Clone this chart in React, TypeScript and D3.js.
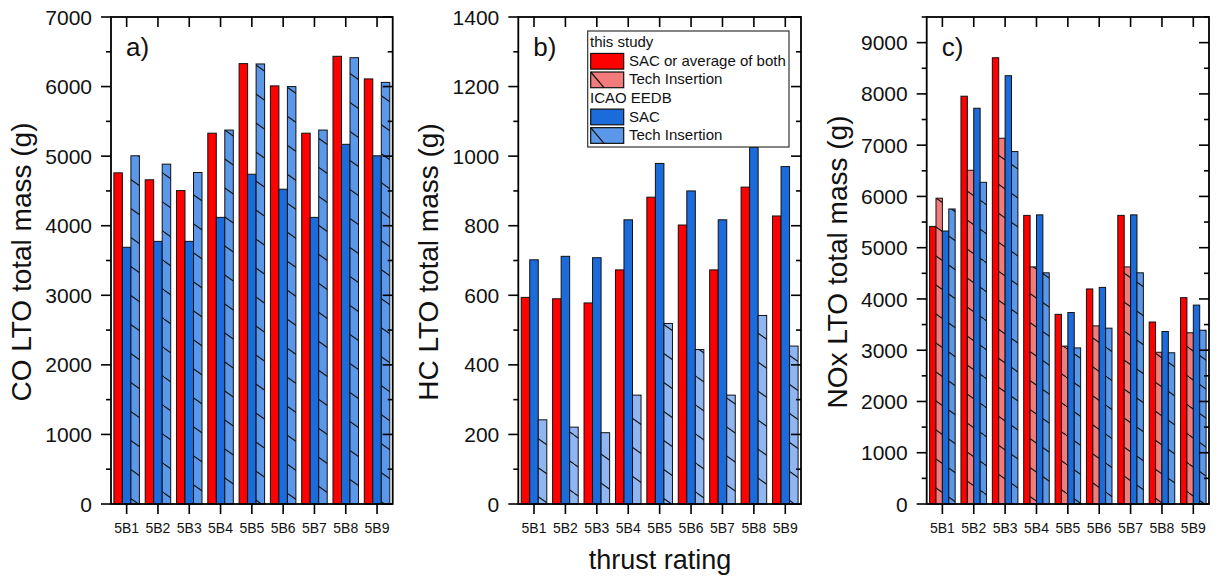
import React from 'react';
import * as d3 from 'd3';

const categories = ['5B1', '5B2', '5B3', '5B4', '5B5', '5B6', '5B7', '5B8', '5B9'];

const coStudySAC = [4760, 4660, 4505, 5330, 6330, 6010, 5330, 6435, 6110];
const coIcaoSAC = [3690, 3775, 3775, 4120, 4740, 4525, 4120, 5170, 5005];
const coIcaoTech = [5005, 4885, 4765, 5375, 6325, 6000, 5375, 6415, 6060];

const hcStudySAC = [594, 590, 578, 673, 882, 802, 673, 911, 828];
const hcIcaoSAC = [702, 712, 708, 817, 979, 900, 817, 1025, 970];
const hcIcaoTech = [242, 221, 205, 313, 519, 444, 313, 542, 454];

const noxStudySAC = [5415, 7955, 8705, 5630, 3700, 4195, 5630, 3550, 4025];
const noxStudyTech = [5965, 6510, 7135, 4625, 3080, 3475, 4625, 2960, 3340];
const noxIcaoSAC = [5325, 7720, 8355, 5640, 3735, 4225, 5640, 3365, 3880];
const noxIcaoTech = [5755, 6275, 6875, 4510, 3045, 3430, 4510, 2950, 3390];

const legendItems = [
  { header: 'this study' },
  { label: 'SAC or average of both', fill: '#ff0000', hatch: false },
  { label: 'Tech Insertion', fill: '#f27b7b', hatch: true },
  { header: 'ICAO EEDB' },
  { label: 'SAC', fill: '#1c6bdb', hatch: false },
  { label: 'Tech Insertion', fill: '#5b98ea', hatch: true },
];

const RED = '#ff0000';
const LRED = '#f27b7b';
const BLUE = '#1c6bdb';
const LBLUE = '#5b98ea';
const LBLUE2 = '#8fb6f1';

const FONT = '"Liberation Sans", Arial, Helvetica, sans-serif';

type Series = { values: number[]; fill: string; hatch: boolean };
type Panel = {
  left: number; right: number; top: number; bottom: number;
  yMax: number; major: number; minor: number;
  label: string; title: string; series: Series[];
};

const panels: Panel[] = [
  {
    left: 111, right: 392.7, top: 17, bottom: 504, yMax: 7000, major: 1000, minor: 500,
    label: 'a)', title: 'CO LTO total mass (g)',
    series: [
      { values: coStudySAC, fill: RED, hatch: false },
      { values: coIcaoSAC, fill: BLUE, hatch: false },
      { values: coIcaoTech, fill: LBLUE, hatch: true },
    ],
  },
  {
    left: 518.3, right: 801, top: 17, bottom: 504, yMax: 1400, major: 200, minor: 100,
    label: 'b)', title: 'HC LTO total mass (g)',
    series: [
      { values: hcStudySAC, fill: RED, hatch: false },
      { values: hcIcaoSAC, fill: BLUE, hatch: false },
      { values: hcIcaoTech, fill: LBLUE2, hatch: true },
    ],
  },
  {
    left: 926.7, right: 1209, top: 17, bottom: 504, yMax: 9500, major: 1000, minor: 500,
    label: 'c)', title: 'NOx LTO total mass (g)',
    series: [
      { values: noxStudySAC, fill: RED, hatch: false },
      { values: noxStudyTech, fill: LRED, hatch: true },
      { values: noxIcaoSAC, fill: BLUE, hatch: false },
      { values: noxIcaoTech, fill: LBLUE, hatch: true },
    ],
  },
];

function PanelView({ p }: { p: Panel }) {
  const x = d3.scaleBand<string>().domain(categories).range([p.left, p.right]).padding(0);
  const y = d3.scaleLinear().domain([0, p.yMax]).range([p.bottom, p.top]);
  const gw = x.bandwidth() * 0.815;
  const inner = d3.scaleBand<number>().domain(p.series.map((_, i) => i)).range([0, gw]).padding(0);
  const majors = d3.range(0, p.yMax + 0.001, p.major);
  const minors = d3.range(0, p.yMax + 0.001, p.minor).filter((v) => Math.abs(v / p.major - Math.round(v / p.major)) > 1e-6);
  const titleX = p.left - 80;
  const cy = 262;
  return (
    <g>
      {categories.map((c, ci) => (
        <g key={c}>
          {p.series.map((s, si) => {
            const bx = (x(c) as number) + x.bandwidth() / 2 - gw / 2 + (inner(si) as number);
            const by = y(s.values[ci]);
            const h = p.bottom - by;
            return (
              <g key={si}>
                <rect x={bx} y={by} width={inner.bandwidth()} height={h} fill={s.fill} />
                {s.hatch && <rect x={bx} y={by} width={inner.bandwidth()} height={h} fill="url(#hatch)" />}
                <rect x={bx} y={by} width={inner.bandwidth()} height={h} fill="none" stroke="#111" strokeWidth={1} />
              </g>
            );
          })}
        </g>
      ))}
      <rect x={p.left} y={p.top} width={p.right - p.left} height={p.bottom - p.top} fill="none" stroke="#000" strokeWidth={1.8} />
      {majors.map((v) => (
        <g key={'M' + v}>
          <line x1={p.left - 10} x2={p.left} y1={y(v)} y2={y(v)} stroke="#000" strokeWidth={1.6} />
          <line x1={p.right - 10} x2={p.right} y1={y(v)} y2={y(v)} stroke="#000" strokeWidth={1.6} />
          <text x={p.left - 19} y={y(v)} dy="0.36em" textAnchor="end" fontSize={21} fontFamily={FONT} fill="#111">{v}</text>
        </g>
      ))}
      {minors.map((v) => (
        <g key={'m' + v}>
          <line x1={p.left - 5} x2={p.left} y1={y(v)} y2={y(v)} stroke="#000" strokeWidth={1.6} />
          <line x1={p.right - 5} x2={p.right} y1={y(v)} y2={y(v)} stroke="#000" strokeWidth={1.6} />
        </g>
      ))}
      {categories.map((c) => {
        const cx = (x(c) as number) + x.bandwidth() / 2;
        return (
          <g key={'x' + c}>
            <line x1={cx} x2={cx} y1={p.bottom} y2={p.bottom + 10} stroke="#000" strokeWidth={1.6} />
            <line x1={cx} x2={cx} y1={p.top} y2={p.top + 10} stroke="#000" strokeWidth={1.6} />
            <text x={cx} y={533} textAnchor="middle" fontSize={14} fontFamily={FONT} fill="#111">{c}</text>
          </g>
        );
      })}
      <text x={p.left + 15} y={56} fontSize={26} fontFamily={FONT} fill="#111">{p.label}</text>
      <text transform={`translate(${titleX},${cy}) rotate(-90)`} textAnchor="middle" fontSize={28} fontFamily={FONT} fill="#111">{p.title}</text>
    </g>
  );
}

function Legend() {
  const lx = 587.7, ly = 31, lw = 201.3, lh = 116;
  const rowY = (i: number) => 47.3 + i * 18.55;
  return (
    <g>
      <rect x={lx} y={ly} width={lw} height={lh} fill="#fff" stroke="#333" strokeWidth={1.2} />
      {legendItems.map((it, i) => {
        const yb = rowY(i);
        if ('header' in it && it.header) {
          return <text key={i} x={590} y={yb} fontSize={15} fontFamily={FONT} fill="#111">{it.header}</text>;
        }
        const sy = yb - 12.4;
        return (
          <g key={i}>
            <rect x={590.7} y={sy} width={33} height={15.7} fill={it.fill} stroke="#111" strokeWidth={1.2} />
            {it.hatch && <line x1={590.7} y1={sy} x2={604} y2={sy + 15.7} stroke="#111" strokeWidth={1.2} />}
            <text x={629} y={yb} fontSize={15} fontFamily={FONT} fill="#111">{it.label}</text>
          </g>
        );
      })}
    </g>
  );
}

export default function App() {
  return (
    <svg width={1219} height={578} style={{ position: 'absolute', left: 0, top: 0, background: '#fff' }}>
      <defs>
        <pattern id="hatch" patternUnits="userSpaceOnUse" width={41} height={29}>
          <line x1={0} y1={0} x2={41} y2={29} stroke="#111" strokeWidth={1.1} />
          <line x1={-41} y1={0} x2={0} y2={29} stroke="#111" strokeWidth={1.1} />
          <line x1={41} y1={0} x2={82} y2={29} stroke="#111" strokeWidth={1.1} />
        </pattern>
      </defs>
      <rect x={0} y={0} width={1219} height={578} fill="#fff" />
      {panels.map((p, i) => <PanelView key={i} p={p} />)}
      <Legend />
      <text x={660} y={569} textAnchor="middle" fontSize={27} fontFamily={FONT} fill="#111">thrust rating</text>
    </svg>
  );
}
